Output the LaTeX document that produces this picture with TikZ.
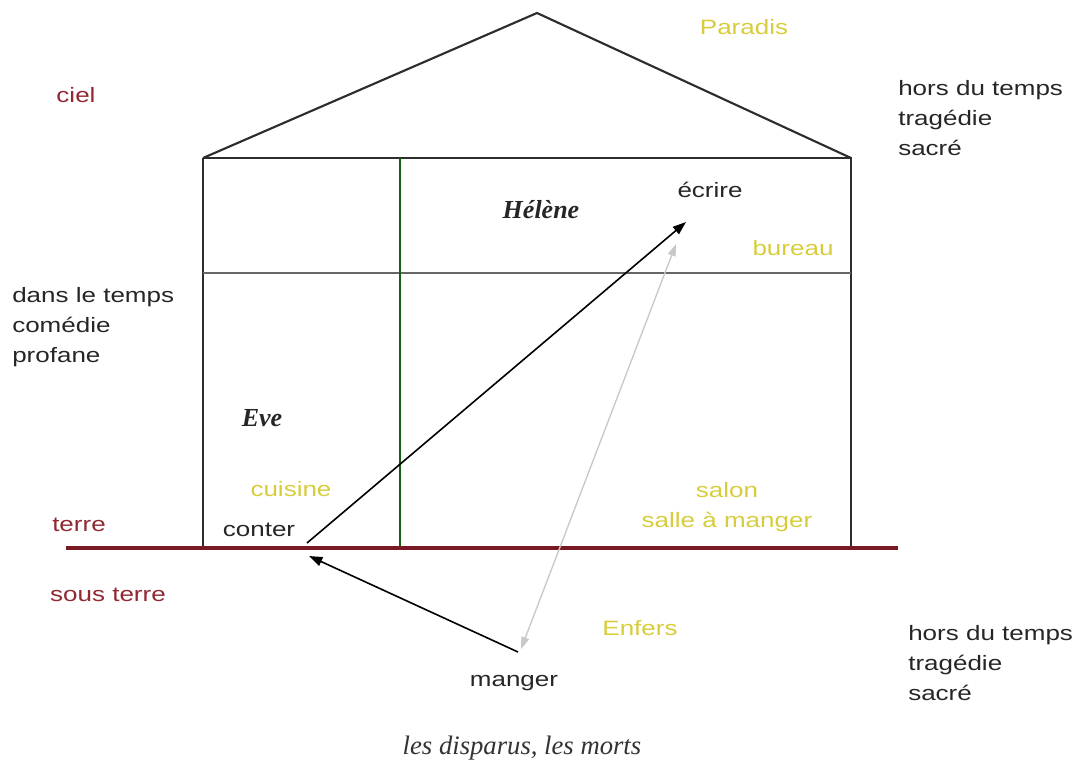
\documentclass[tikz,border=0pt]{standalone}
\usepackage{fontspec}
\setmainfont{Liberation Sans}[FakeStretch=1.25]
\newfontfamily\serifface{Liberation Serif}
\usetikzlibrary{arrows.meta}
\definecolor{ylw}{RGB}{215,205,60}
\definecolor{redtxt}{RGB}{145,40,50}
\definecolor{groundc}{RGB}{120,25,35}
\definecolor{wallc}{RGB}{45,45,45}
\definecolor{greenc}{RGB}{20,95,20}
\definecolor{grayarrow}{RGB}{200,200,200}
\tikzset{
  lbltxt/.style={inner sep=0pt, font=\fontsize{15.6pt}{22.5pt}\selectfont},
  yltxt/.style={lbltxt, text=ylw},
  rdtxt/.style={lbltxt, text=redtxt},
  bktxt/.style={lbltxt, text=black!85},
  persontxt/.style={inner sep=0pt, font=\serifface\bfseries\itshape\fontsize{19.5pt}{22pt}\selectfont, text=black!85},
  notetxt/.style={inner sep=0pt, font=\serifface\itshape\fontsize{20pt}{22pt}\selectfont, text=black!80},
  wallline/.style={draw=wallc, line width=1.6pt},
  blackarrow/.style={draw=black, line width=1.2pt, -{Triangle[length=10pt,width=7pt]}},
  grayline/.style={draw=grayarrow, line width=1pt, {Triangle[length=9pt,width=6pt]}-{Triangle[length=9pt,width=6pt]}}
}
\begin{document}
\begin{tikzpicture}[x=0.75pt,y=-0.75pt]
\useasboundingbox (0,0) rectangle (1082,774);
% house
\draw[wallline, line join=round] (203,158) -- (537,13) -- (851,158);
\draw[wallline] (203,158) -- (851,158) -- (851,546);
\draw[wallline] (203,158) -- (203,546);
\draw[draw=black!60, line width=2pt] (203,273) -- (851,273);
\draw[draw=greenc, line width=2pt] (400,158) -- (400,546);
% ground
\draw[draw=groundc, line width=2.6pt] (66,548) -- (898,548);

% labels
\node[yltxt] (paradis) at (744,27) {Paradis};
\node[rdtxt] (ciel) at (76,95) {ciel};
\node[bktxt, anchor=west, align=left] (horsA) at (898,118) {hors du temps\\tragédie\\sacré};
\node[persontxt] (helene) at (541,210) {Hélène};
\node[bktxt] (ecrire) at (710,190) {écrire};
\node[yltxt] (bureau) at (793,248) {bureau};
\node[bktxt, anchor=west, align=left] (dans) at (12,327) {dans le temps\\comédie\\profane};
\node[persontxt] (eve) at (262,418) {Eve};
\node[yltxt] (cuisine) at (291,489) {cuisine};
\node[yltxt, align=center] (salon) at (727,507) {salon\\salle à manger};
\node[rdtxt] (terre) at (79,525) {terre};
\node[bktxt] (conter) at (259,530) {conter};
\node[rdtxt] (sousterre) at (108,595) {sous terre};
\node[yltxt] (enfers) at (640,628) {Enfers};
\node[bktxt, anchor=west, align=left] (horsB) at (908,663) {hors du temps\\tragédie\\sacré};
\node[bktxt] (manger) at (514,683) {manger};
\node[notetxt] (morts) at (522,748) {les disparus, les morts};

% arrow end points
\coordinate (conterpt) at (307,543);
\coordinate (ecrirept) at (686,222);
\coordinate (mangerpt) at (518,652);
\coordinate (groundpt) at (309,556);
\coordinate (graytop) at (676,244);
\coordinate (graybot) at (521,649);

\draw[grayline] (graytop) -- (graybot);
\draw[blackarrow] (conterpt) -- (ecrirept);
\draw[blackarrow] (mangerpt) -- (groundpt);
\end{tikzpicture}
\end{document}
